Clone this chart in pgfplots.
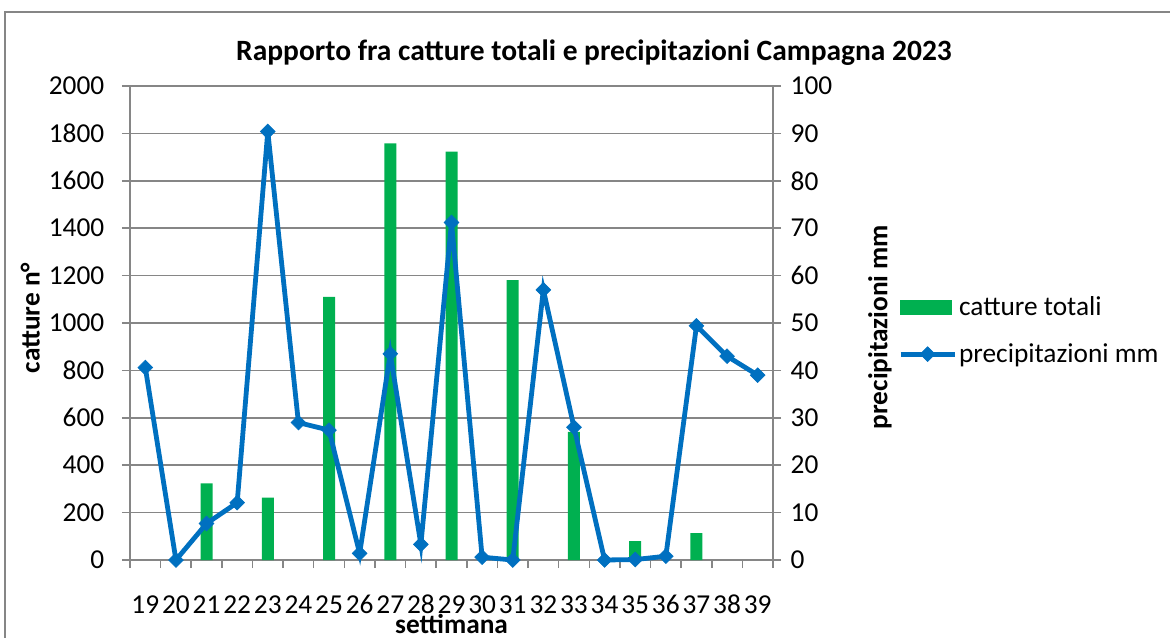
\documentclass[border=0pt]{standalone}
\usepackage{pgfplots}
\pgfplotsset{compat=1.18}
\usepackage{fontspec}
\setmainfont{Carlito}
\definecolor{grn}{HTML}{00B050}
\definecolor{blu}{HTML}{0070C0}
\definecolor{gridc}{HTML}{868686}
\newlength\px \setlength\px{0.75pt}
\pgfplotsset{mylineleg/.style={legend image code/.code={\draw[mark repeat=2,mark phase=2,##1] plot coordinates {(0,0) (27\px,0) (54\px,0)};}}}
\begin{document}
\begin{tikzpicture}
\useasboundingbox (0,0) rectangle (1170\px,-637\px);
\draw[gridc, line width=1.5\px] (5\px,-12\px) rectangle (1200\px,-700\px);
\node[font=\fontsize{22.1}{26}\selectfont\bfseries] at (594\px,-53\px) {Rapporto fra catture totali e precipitazioni Campagna 2023};
\pgfplotsset{
 common/.style={
  at={(130\px,-560\px)}, anchor=south west,
  scale only axis, width=643\px, height=474\px,
  xmin=18.5, xmax=39.5,
  font=\fontsize{20.5}{24}\selectfont,
  /pgf/number format/assume math mode=true,
  /pgf/number format/set thousands separator={},
  axis line style={gridc, line width=1.5\px},
  tick style={gridc, line width=1.5\px},
  tick align=outside,
  major tick length=8\px, minor tick length=8\px,
  clip=false,
 }
}
\begin{axis}[common,
 ymin=0, ymax=2000, ytick={0,200,...,2000},
 axis y line*=left, axis x line*=bottom,
 ymajorgrids, grid style={gridc, line width=1.5\px},
 xtick={19,...,39}, minor xtick={18.5,19.5,...,39.5},
 major x tick style={draw=none},
 xticklabel style={inner sep=0pt, yshift=-27\px},
 yticklabel style={xshift=-13\px},
 ylabel={\bfseries catture n°},
 ylabel style={at={(axis description cs:-0.155,0.5105)}, anchor=center},
 xlabel={\bfseries settimana},
 xlabel style={at={(axis description cs:0.5,-0.135)}, anchor=center, inner sep=0pt},
]
\addplot[ybar, bar width=12\px, fill=grn, draw=none] coordinates {(21,323) (23,263) (25,1110) (27,1758) (29,1723) (31,1181) (33,541) (35,80) (37,113)};
\end{axis}
\begin{axis}[common,
 ymin=0, ymax=100, ytick={0,10,...,100},
 axis y line*=right, axis x line=none,
 yticklabel style={xshift=5\px},
 ylabel={\bfseries precipitazioni mm},
 ylabel style={at={(axis description cs:1.1664,0.4916)}, anchor=center},
 legend style={draw=none, fill=none, at={(axis description cs:1.1944,0.5602)}, anchor=north west, inner sep=0pt, row sep=22\px, nodes={inner sep=2\px}},
 legend cell align=left,
]
\addlegendimage{legend image code/.code={\fill[grn] (0,-7\px) rectangle (51\px,7\px);}}
\addlegendentry{catture totali}
\addplot[blu, line width=3.6pt, mark=square*, mark size=5.2\px, mark options={rotate=45, solid, fill=blu, line width=0.5pt}, mylineleg]
 coordinates {(19,40.6) (20,0) (21,7.7) (22,12.1) (23,90.4) (24,29.0) (25,27.4) (26,1.4) (27,43.5) (28,3.3) (29,71.2) (30,0.6) (31,0) (32,57.0) (33,28.0) (34,0) (35,0.1) (36,0.8) (37,49.4) (38,43.0) (39,39.0)};
\addlegendentry{precipitazioni mm}
\end{axis}
\end{tikzpicture}
\end{document}
